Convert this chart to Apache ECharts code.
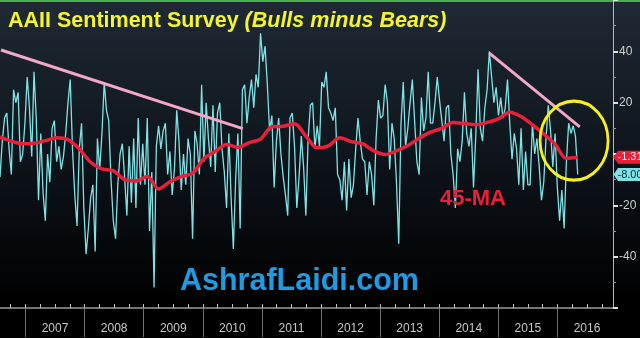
<!DOCTYPE html>
<html><head><meta charset="utf-8">
<script src="https://cdn.jsdelivr.net/npm/echarts@6/dist/echarts.min.js"></script>
<style>html,body{margin:0;padding:0;background:#000;}#c{width:640px;height:338px;}</style>
</head><body><div id="c"></div>
<script>
// ---- data ----
const START = 2006.569;          // first observation, decimal year
const STEP_WEEKS = 2;            // spacing of the sampled survey readings
const spread = [
  -9, 5, 14, 16, 2, -8, 25, 20, 24, -3,
  0, 12, 30, 18, -1, 32, 14, -18, 8, -15,
  -26, 0, -11, 10, 13, -3, 3, -6, -1, 8,
  20, 29, 2, -16, -28, 2, 12, -21, -39, -29,
  -17, -12, -38, 6, -6, 8, 28, 17, 13, -10,
  -26, -33, -12, 0, 4, -9, -24, 3, -19, 6,
  -21, 14, -12, 4, -12, 14, -30, -7, -52, 3,
  11, 2, 9, 12, -8, 1, -16, -6, 17, 5,
  -14, 0, -12, 6, 0, -33, 9, 4, -8, 27,
  -3, 20, 6, -5, 19, -7, 16, 20, 2, -7,
  -21, 8, -17, -37, -10, 8, -29, 25, 27, 12,
  22, 29, 18, 31, 26, 47, 36, 42, 27, 9,
  15, -13, 5, 14, 0, -9, -16, -24, 14, 16,
  3, -21, -9, 7, -5, -24, 6, 19, 20, 2,
  11, 3, 28, 26, 32, 18, 16, 13, 18, -8,
  -10, -18, -3, -22, -2, -17, -12, 2, 14, 5,
  -2, -3, -16, -3, -8, -20, 6, 21, 14, 15,
  27, 20, -6, 12, 6, -11, -35, 12, 28, 3,
  10, 20, 29, 13, -3, -8, 22, 9, 14, 32,
  12, 12, 20, 30, 21, 13, 5, 18, 19, 0,
  -8, -21, 2, -3, 5, 24, 8, 3, 10, -13,
  7, 33, 10, 5, 18, 25, 40, 30, 20, 26,
  15, 22, 14, 18, 29, 12, -2, 8, 2, -12,
  10, -14, 1, -12, -12, 12, 0, 6, -5, -18,
  -11, 6, 19, 9, -5, 8, -13, -26, -14, -29,
  -3, 12, 8, 11, 7, -8
];
const MA_STEP_WEEKS = 10;        // spacing of the sampled 45-week MA
const ma45 = [
  6.7, 5.0, 4.0, 4.2, 5.2, 6.3, 5.6, 2.0, -3.2, -5.8,
  -6.5, -10.0, -10.5, -8.8, -13.6, -10.8, -8.8, -7.5, -1.8, 1.0,
  3.7, 2.6, 4.4, 5.8, 10.6, 10.8, 11.8, 7.0, 2.4, 3.2,
  6.3, 4.8, 4.0, 1.2, -0.2, 1.2, 3.3, 6.1, 8.5, 10.0,
  12.3, 11.9, 11.4, 12.3, 13.7, 16.3, 14.6, 11.4, 7.8, 3.8,
  -1.7, -1.31
];
const trend1 = [[2006.586, 40.5], [2010.676, 9.9]];
const trend2 = [[2014.843, 39.4], [2016.378, 10.6]];
const circleCenter = [2016.281, 5.2];
const lastSpread = -8.00;
const lastMA = -1.31;
const yearLabels = ['2007','2008','2009','2010','2011','2012','2013','2014','2015','2016'];
const yTickLabels = [40, 20, -20, -40];
const X_MIN = 2006.569, X_MAX = 2016.94;
const Y_MIN = -60, Y_MAX = 60;

// ---- build ----
const WEEK = 7 / 365.25;
const spreadData = spread.map((v, i) => [START + i * STEP_WEEKS * WEEK, v]);
const maData = ma45.map((v, i) => [START + i * MA_STEP_WEEKS * WEEK, v]);
const yearStarts = yearLabels.map(y => +y);
const yearMids = yearLabels.map(y => +y + 0.5);
const quarters = [];
for (let y = 2006; y <= 2016; y++) for (const q of [0, 0.25, 0.5, 0.75]) {
  const v = y + q; if (v > X_MIN && v < X_MAX) quarters.push(v);
}
const badgePath = 'path://M0,5 L5,0 L30,0 L30,10 L5,10 Z';
const font = '"Liberation Sans", Arial, sans-serif';

const chart = echarts.init(document.getElementById('c'), null, {renderer: 'canvas'});
chart.setOption({
  animation: false,
  backgroundColor: {type: 'linear', x: 0, y: 0, x2: 0, y2: 1, colorStops: [
    {offset: 0, color: '#1f2a35'}, {offset: 0.55, color: '#0b1016'}, {offset: 0.9, color: '#000'}]},
  graphic: [{type: 'rect', left: 0, top: 0, shape: {width: 640, height: 2}, style: {fill: '#4caf50'}, silent: true}],
  title: [
    {text: '{a|AAII Sentiment Survey }{b|(Bulls minus Bears)}', left: 3, top: 5,
     textStyle: {rich: {
       a: {color: '#f4f430', fontSize: 21.5, fontWeight: 'bold', fontFamily: font},
       b: {color: '#f4f430', fontSize: 21.5, fontWeight: 'bold', fontStyle: 'italic', fontFamily: font}}}},
    {text: '45-MA', left: 435, top: 183,
     textStyle: {color: '#e8203a', fontSize: 22, fontWeight: 'bold', fontFamily: font}},
    {text: 'AshrafLaidi.com', left: 175, top: 261,
     textStyle: {color: '#1e9be3', fontSize: 30.5, fontWeight: 'bold', fontFamily: font}}
  ],
  grid: {left: 0, right: 27, top: -2, bottom: 30, containLabel: false},
  xAxis: [
    {type: 'value', min: X_MIN, max: X_MAX, position: 'bottom',
     axisLine: {show: true, onZero: false, lineStyle: {color: '#9a9a9a', width: 1.5}},
     axisTick: {show: true, customValues: yearStarts, length: 29, inside: false, lineStyle: {color: '#707070'}},
     axisLabel: {show: true, customValues: yearMids, formatter: v => String(Math.floor(v)),
                 color: '#c8c8c8', fontSize: 12, margin: 15, fontFamily: '"Liberation Sans Narrow", ' + font},
     splitLine: {show: false}},
    {type: 'value', min: X_MIN, max: X_MAX, position: 'bottom',
     axisLine: {show: false, onZero: false}, axisLabel: {show: false}, splitLine: {show: false},
     axisTick: {show: true, customValues: quarters, inside: true, length: 4, lineStyle: {color: '#c0c0c0'}}}
  ],
  yAxis: {type: 'value', position: 'right', min: Y_MIN, max: Y_MAX, interval: 20,
    axisLine: {show: true, onZero: false, lineStyle: {color: '#b8b8b8', width: 1}},
    axisTick: {show: true, length: 5, inside: false, lineStyle: {color: '#e0e0e0', width: 2}},
    minorTick: {show: true, splitNumber: 2, length: 3, lineStyle: {color: '#9a9a9a'}},
    axisLabel: {color: '#d0d0d0', fontSize: 12, margin: 6, fontFamily: font,
      formatter: v => yTickLabels.includes(v) ? String(v) : ''},
    splitLine: {show: false}},
  series: [
    {type: 'line', name: 'Bulls minus Bears', data: spreadData, showSymbol: false, symbol: 'none', z: 2,
     lineStyle: {color: '#7fe3e6', width: 1.3}, itemStyle: {color: '#7fe3e6'},
     markPoint: {symbol: badgePath, symbolSize: [27, 13], symbolOffset: [14, 0], symbolKeepAspect: false, silent: true,
       data: [{coord: [X_MAX, lastSpread], itemStyle: {color: '#7fe3e6'},
               label: {show: true, formatter: lastSpread.toFixed(2), color: '#0d2a33', fontSize: 11, offset: [3, 0], fontFamily: font}}]}},
    {type: 'line', name: '45-MA', data: maData, showSymbol: false, symbol: 'none', smooth: 0.3, z: 4,
     lineStyle: {color: '#e8203a', width: 3.5}, itemStyle: {color: '#e8203a'},
     markPoint: {symbol: badgePath, symbolSize: [27, 13], symbolOffset: [14, 0], symbolKeepAspect: false, silent: true,
       data: [{coord: [X_MAX, lastMA], itemStyle: {color: '#e8203a'},
               label: {show: true, formatter: lastMA.toFixed(2), color: '#ffe6ea', fontSize: 11, offset: [3, 0], fontFamily: font}}]}},
    {type: 'line', data: trend1, symbol: 'none', z: 3, lineStyle: {color: '#f3a7c6', width: 3}},
    {type: 'line', data: trend2, symbol: 'none', z: 3, lineStyle: {color: '#f3a7c6', width: 3}},
    {type: 'scatter', data: [circleCenter], symbol: 'circle', symbolSize: [68, 79], z: 5, silent: true,
     itemStyle: {color: 'rgba(0,0,0,0)', borderColor: '#f7f01a', borderWidth: 3, opacity: 1}}
  ]
});
</script></body></html>
